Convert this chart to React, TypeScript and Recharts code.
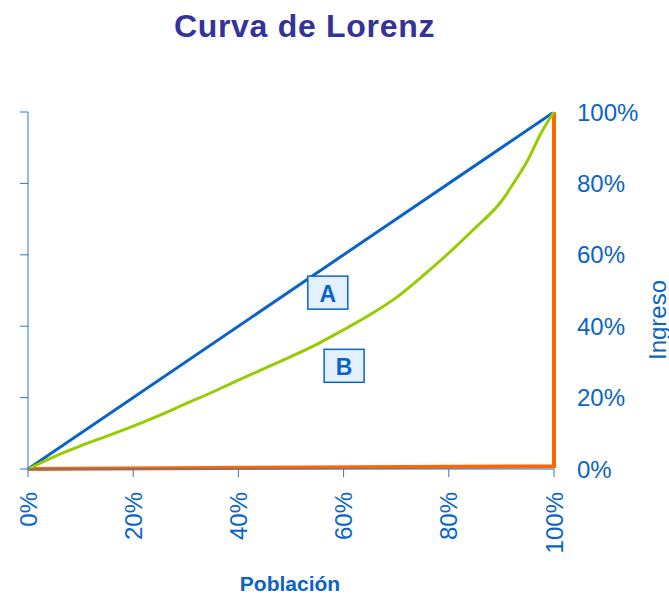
import { LineChart, Line, XAxis, YAxis, ReferenceDot } from 'recharts'

const populationTicks = [0, 20, 40, 60, 80, 100]
const incomeTicks = [0, 20, 40, 60, 80, 100]

// línea de igualdad perfecta
const equalityX = [0, 100]
const equalityY = [0, 100]

// curva de Lorenz
const lorenzX = [0, 5, 10, 15, 20, 25, 30, 35, 40, 45, 50, 55, 60, 65, 70, 75, 80, 85, 90, 92.5, 95, 97.5, 100]
const lorenzY = [0, 3.5, 6.5, 9.2, 12, 15, 18.3, 21.5, 24.9, 28.2, 31.5, 35, 39, 43.2, 48, 54, 60.5, 67.5, 75, 80.5, 86.5, 94, 100]

// desigualdad perfecta
const inequalityX = [0, 100, 100]
const inequalityY = [0, 0.8, 100]

const areaLabels = ['A', 'B']
const areaLabelX = [57, 60.1]
const areaLabelY = [49.4, 28.9]

const zip = (xs: number[], ys: number[]) => xs.map((x, i) => ({ x, y: ys[i] }))

const equalityData = zip(equalityX, equalityY)
const lorenzData = zip(lorenzX, lorenzY)
const inequalityData = zip(inequalityX, inequalityY)

const font = '"Liberation Sans", Arial, Helvetica, sans-serif'
const textBlue = '#0a64c8'
const axisBlue = '#2f74cc'

const pct = (v: number) => `${v}%`

function RotatedTick({ x, y, payload }: { x?: number; y?: number; payload?: { value: number } }) {
  const ty = (y ?? 0) + 13
  return (
    <text
      x={x}
      y={ty}
      transform={`rotate(-90 ${x} ${ty})`}
      textAnchor="end"
      dominantBaseline="central"
      fill={textBlue}
      fontSize={24}
      fontFamily={font}
    >
      {pct(payload?.value ?? 0)}
    </text>
  )
}

function RightTick({ x, y, payload }: { x?: number; y?: number; payload?: { value: number } }) {
  return (
    <text
      x={x}
      y={y}
      textAnchor="start"
      dominantBaseline="central"
      fill={textBlue}
      fontSize={24}
      fontFamily={font}
    >
      {pct(payload?.value ?? 0)}
    </text>
  )
}

function AreaBox({ cx, cy, text }: { cx?: number; cy?: number; text: string }) {
  const x = cx ?? 0
  const y = cy ?? 0
  return (
    <g>
      <rect x={x - 20} y={y - 16.5} width={40} height={33} fill="#e2f0ff" stroke={textBlue} strokeWidth={1.5} />
      <text
        x={x}
        y={y + 1}
        textAnchor="middle"
        dominantBaseline="central"
        fill={textBlue}
        fontSize={23}
        fontWeight="bold"
        fontFamily={font}
      >
        {text}
      </text>
    </g>
  )
}

export default function App() {
  return (
    <div style={{ position: 'absolute', left: 0, top: 0, width: 669, height: 595, background: '#fff' }}>
      <div
        style={{
          position: 'absolute',
          left: 0,
          top: 10,
          width: 609,
          textAlign: 'center',
          fontFamily: font,
          fontWeight: 'bold',
          fontSize: 32,
          lineHeight: '32px',
          letterSpacing: 0.7,
          color: '#333399',
        }}
      >
        Curva de Lorenz
      </div>
      <LineChart width={669} height={595} margin={{ top: 112, right: 0, bottom: 0, left: 0 }}>
        <XAxis
          dataKey="x"
          type="number"
          domain={[0, 100]}
          ticks={populationTicks}
          height={126}
          stroke={axisBlue}
          tickSize={8}
          tick={<RotatedTick />}
          label={{
            content: ({ viewBox }: any) => (
              <text
                x={viewBox.x + viewBox.width / 2 - 1}
                y={591}
                textAnchor="middle"
                fill={textBlue}
                fontSize={21}
                fontWeight="bold"
                fontFamily={font}
              >
                Población
              </text>
            ),
          }}
        />
        <YAxis
          yAxisId="left"
          orientation="left"
          type="number"
          domain={[0, 100]}
          ticks={incomeTicks}
          width={28}
          stroke={axisBlue}
          tickSize={8}
          tickFormatter={() => ''}
        />
        <YAxis
          yAxisId="right"
          orientation="right"
          type="number"
          domain={[0, 100]}
          allowDataOverflow
          ticks={incomeTicks}
          width={115}
          axisLine={false}
          tickLine={false}
          tickSize={0}
          tickMargin={23}
          tick={<RightTick />}
          label={{
            content: () => (
              <text
                x={657}
                y={320}
                transform="rotate(-90 657 320)"
                textAnchor="middle"
                dominantBaseline="central"
                fill={textBlue}
                fontSize={24}
                fontFamily={font}
              >
                Ingreso
              </text>
            ),
          }}
        />
        <Line
          yAxisId="left"
          data={inequalityData}
          dataKey="y"
          type="linear"
          stroke="#ff6600"
          strokeWidth={4}
          dot={false}
          isAnimationActive={false}
        />
        <Line
          yAxisId="right"
          data={equalityData}
          dataKey="y"
          type="linear"
          stroke="#0a64c8"
          strokeWidth={3}
          dot={false}
          isAnimationActive={false}
        />
        <Line
          yAxisId="left"
          data={lorenzData}
          dataKey="y"
          type="monotone"
          stroke="#99cc00"
          strokeWidth={3}
          dot={false}
          isAnimationActive={false}
        />
        {areaLabels.map((t, i) => (
          <ReferenceDot
            key={t}
            yAxisId="left"
            x={areaLabelX[i]}
            y={areaLabelY[i]}
            shape={(p: any) => <AreaBox cx={p.cx} cy={p.cy} text={t} />}
          />
        ))}
      </LineChart>
    </div>
  )
}
